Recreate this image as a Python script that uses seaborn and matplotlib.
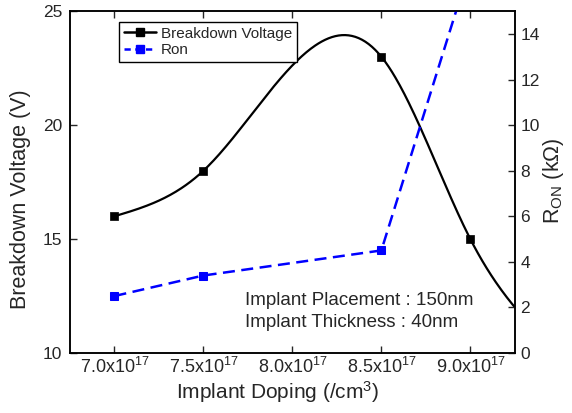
import numpy as np
import pandas as pd
import matplotlib
matplotlib.use("Agg")
import matplotlib.pyplot as plt
import seaborn as sns
from matplotlib.lines import Line2D

# data
doping = [7.0, 7.5, 8.5, 9.0]          # x 1e17 /cm^3
breakdown = [16.0, 18.0, 23.0, 15.0]   # V
ron = [2.5, 3.4, 4.5, 17.0]            # kOhm
# curve continues past the right edge of the axes (point off-axis, estimated)
bv_doping_ext = [9.5]
breakdown_ext = [10.0]
xticks = [7.0, 7.5, 8.0, 8.5, 9.0]
xticklabels = [r"7.0x10$^{17}$", r"7.5x10$^{17}$", r"8.0x10$^{17}$",
               r"8.5x10$^{17}$", r"9.0x10$^{17}$"]
notes = ["Implant Placement : 150nm", "Implant Thickness : 40nm"]

sns.set_style("ticks")
plt.rcParams['font.family'] = ['Liberation Sans', 'DejaVu Sans']
plt.rcParams['mathtext.fontset'] = 'custom'
plt.rcParams['mathtext.rm'] = 'Liberation Sans'
plt.rcParams['mathtext.it'] = 'Liberation Sans'


def natural_spline(x, y, xs):
    x = np.asarray(x, float); y = np.asarray(y, float)
    n = len(x)
    h = np.diff(x)
    A = np.zeros((n, n)); b = np.zeros(n)
    A[0, 0] = 1; A[-1, -1] = 1
    for i in range(1, n - 1):
        A[i, i - 1] = h[i - 1]
        A[i, i] = 2 * (h[i - 1] + h[i])
        A[i, i + 1] = h[i]
        b[i] = 6 * ((y[i + 1] - y[i]) / h[i] - (y[i] - y[i - 1]) / h[i - 1])
    M = np.linalg.solve(A, b)
    out = []
    for xv in xs:
        i = int(np.clip(np.searchsorted(x, xv) - 1, 0, n - 2))
        t1 = x[i + 1] - xv; t0 = xv - x[i]
        v = (M[i] * t1**3 + M[i + 1] * t0**3) / (6 * h[i]) \
            + (y[i] / h[i] - M[i] * h[i] / 6) * t1 \
            + (y[i + 1] / h[i] - M[i + 1] * h[i] / 6) * t0
        out.append(v)
    return np.array(out)


fig = plt.figure(figsize=(5.72, 4.13), dpi=100)
ax = fig.add_axes([0.1224, 0.1453, 0.7776, 0.8277])
ax2 = ax.twinx()

xs = np.linspace(7.0, 9.5, 400)
smooth = pd.DataFrame({"x": xs,
                       "y": natural_spline(doping + bv_doping_ext,
                                           breakdown + breakdown_ext, xs)})
df = pd.DataFrame({"x": doping, "bv": breakdown, "ron": ron})

sns.lineplot(data=smooth, x="x", y="y", ax=ax, color="black", lw=1.6, sort=False)
sns.scatterplot(data=df, x="x", y="bv", ax=ax, color="black", marker="s", s=30,
                edgecolor="black", linewidth=0.5, zorder=5)
sns.lineplot(data=df, x="x", y="ron", ax=ax2, color="blue", lw=1.8,
             linestyle=(0, (4.8, 2.6)), marker="s", markersize=5.5,
             markeredgecolor="blue")

ax.set_xlim(6.75, 9.25)
ax.set_ylim(10, 25)
ax2.set_ylim(0, 15)
ax.set_xticks(xticks)
ax.set_xticklabels(xticklabels, fontsize=13)
ax.set_yticks([10, 15, 20, 25])
ax.tick_params(axis="y", labelsize=12.5, direction="in", length=5, width=1, pad=5.5)
ax.tick_params(axis="x", direction="in", length=5, width=1, top=True, pad=3)
ax2.set_yticks(range(0, 15, 2))
ax2.tick_params(axis="y", labelsize=12.5, direction="in", length=5, width=1, pad=4)

ax.set_xlabel(r"Implant Doping (/cm$^{3}$)", fontsize=15)
ax.set_ylabel("Breakdown Voltage (V)", fontsize=15.5)
ax2.set_ylabel(r"R$_{\mathrm{ON}}$ (kΩ)", fontsize=15.5)
ax.xaxis.set_label_coords(0.467, -0.113)
ax.xaxis.label.set_verticalalignment("center")
ax.yaxis.set_label_coords(-0.112, 0.45)
ax.yaxis.label.set_verticalalignment("center")
ax2.yaxis.set_label_coords(1.088, 0.503)
ax2.yaxis.label.set_verticalalignment("center")

for a in (ax, ax2):
    for s in a.spines.values():
        s.set_linewidth(1.1)
        s.set_color("black")

ax.text(0.393, 0.155, notes[0], transform=ax.transAxes, fontsize=13.5,
        va="center", ha="left")
ax.text(0.393, 0.0906, notes[1], transform=ax.transAxes, fontsize=13.5,
        va="center", ha="left")

handles = [
    Line2D([], [], color="black", lw=1.8, marker="s", markersize=5.5),
    Line2D([], [], color="blue", lw=1.8, linestyle=(0, (2.5, 1.8)), marker="s",
           markersize=5.5),
]
leg = ax.legend(handles, ["Breakdown Voltage", "Ron"], loc="upper left",
                bbox_to_anchor=(0.11, 0.968), borderaxespad=0, fontsize=11,
                frameon=True, fancybox=False, edgecolor="black",
                handlelength=2.1, handletextpad=0.35, borderpad=0.3,
                labelspacing=0.15)
leg.get_frame().set_linewidth(1)
leg.get_frame().set_alpha(1)

fig.savefig("out.png", dpi=100)
